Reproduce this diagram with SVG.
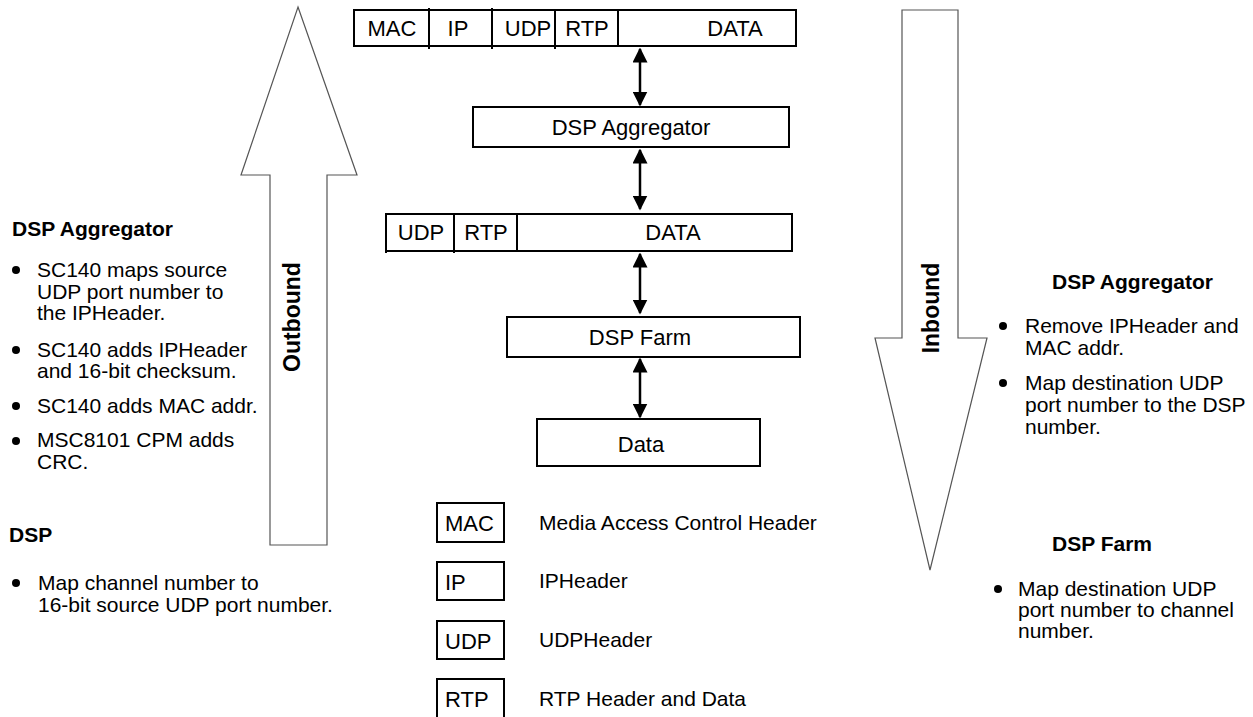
<svg xmlns="http://www.w3.org/2000/svg" width="1253" height="717" viewBox="0 0 1253 717">
<defs>
<style>
.box{fill:#fff;stroke:#000;stroke-width:2}
.div{stroke:#000;stroke-width:2}
.bt{font-family:"Liberation Sans",Arial,sans-serif;font-size:22px;fill:#000}
.tx{font-family:"Liberation Sans",Arial,sans-serif;font-size:21px;fill:#000}
.hd{font-family:"Liberation Sans",Arial,sans-serif;font-size:21px;font-weight:bold;fill:#000}
.rot{font-family:"Liberation Sans",Arial,sans-serif;font-size:23px;font-weight:bold;fill:#000}
.big{fill:#fff;stroke:#555;stroke-width:1.2}
.con{stroke:#000;stroke-width:2.5;fill:none;marker-start:url(#ah);marker-end:url(#ah)}
</style>
<marker id="ah" viewBox="0 0 10 10" refX="9" refY="5" markerWidth="6" markerHeight="6" orient="auto-start-reverse" markerUnits="strokeWidth">
<path d="M0,0 L10,5 L0,10 z" fill="#000"/>
</marker>
</defs>
<rect width="1253" height="717" fill="#fff"/>

<g id="outbound">
<polygon class="big" points="298,7 357,175 327,175 327,545 270,545 270,175 241,175"/>
<text class="rot" text-anchor="middle" transform="translate(300,317) rotate(-90)">Outbound</text>
</g>

<g id="inbound">
<polygon class="big" points="902,10 958,10 958,338 987,338 930,570 875,338 902,338"/>
<text class="rot" text-anchor="middle" transform="translate(939,308) rotate(-90)">Inbound</text>
</g>

<g id="packet-full">
<rect class="box" x="354" y="10" width="442" height="36"/>
<line class="div" x1="429" y1="8" x2="429" y2="49"/>
<line class="div" x1="492" y1="8" x2="492" y2="49"/>
<line class="div" x1="555" y1="10" x2="555" y2="49"/>
<line class="div" x1="618" y1="10" x2="618" y2="46"/>
<text class="bt" x="392" y="36" text-anchor="middle">MAC</text>
<text class="bt" x="458" y="36" text-anchor="middle">IP</text>
<text class="bt" x="528" y="36" text-anchor="middle">UDP</text>
<text class="bt" x="587" y="36" text-anchor="middle">RTP</text>
<text class="bt" x="735" y="36" text-anchor="middle">DATA</text>
</g>

<g id="dsp-aggregator">
<rect class="box" x="473" y="107" width="316" height="40"/>
<text class="bt" x="631" y="135" text-anchor="middle">DSP Aggregator</text>
</g>

<g id="packet-udp">
<rect class="box" x="386" y="214" width="406" height="37"/>
<line class="div" x1="454" y1="214" x2="454" y2="253"/>
<line class="div" x1="517" y1="214" x2="517" y2="251"/>
<line class="div" x1="386" y1="214" x2="386" y2="253"/>
<text class="bt" x="421" y="240" text-anchor="middle">UDP</text>
<text class="bt" x="486" y="240" text-anchor="middle">RTP</text>
<text class="bt" x="673" y="240" text-anchor="middle">DATA</text>
</g>

<g id="dsp-farm">
<rect class="box" x="507" y="317" width="293" height="40"/>
<text class="bt" x="640" y="345" text-anchor="middle">DSP Farm</text>
</g>

<g id="data">
<rect class="box" x="537" y="419" width="223" height="47"/>
<text class="bt" x="641" y="452" text-anchor="middle">Data</text>
</g>

<g id="connectors">
<line class="con" x1="640" y1="49" x2="640" y2="105"/>
<line class="con" x1="640" y1="150" x2="640" y2="209"/>
<line class="con" x1="640" y1="254" x2="640" y2="313"/>
<line class="con" x1="640" y1="359" x2="640" y2="417"/>
</g>

<g id="legend">
<rect class="box" x="437" y="503" width="67" height="39"/>
<text class="bt" x="445" y="531">MAC</text>
<text class="tx" x="539" y="530">Media Access Control Header</text>
<rect class="box" x="437" y="562" width="67" height="38"/>
<text class="bt" x="445" y="590">IP</text>
<text class="tx" x="539" y="588">IPHeader</text>
<rect class="box" x="437" y="621" width="67" height="38"/>
<text class="bt" x="445" y="649">UDP</text>
<text class="tx" x="539" y="647">UDPHeader</text>
<rect class="box" x="437" y="679" width="67" height="45"/>
<text class="bt" x="445" y="707">RTP</text>
<text class="tx" x="539" y="706">RTP Header and Data</text>
</g>

<g id="left-notes">
<text class="hd" x="12" y="236">DSP Aggregator</text>
<circle cx="16" cy="270" r="4"/>
<text class="tx" x="37" y="277">SC140 maps source</text>
<text class="tx" x="37" y="299">UDP port number to</text>
<text class="tx" x="37" y="320">the IPHeader.</text>
<circle cx="16" cy="350" r="4"/>
<text class="tx" x="37" y="357">SC140 adds IPHeader</text>
<text class="tx" x="37" y="378">and 16-bit checksum.</text>
<circle cx="16" cy="406" r="4"/>
<text class="tx" x="37" y="413">SC140 adds MAC addr.</text>
<circle cx="16" cy="441" r="4"/>
<text class="tx" x="37" y="447">MSC8101 CPM adds</text>
<text class="tx" x="37" y="469">CRC.</text>
<text class="hd" x="9" y="542">DSP</text>
<circle cx="16" cy="583" r="4"/>
<text class="tx" x="38" y="590">Map channel number to</text>
<text class="tx" x="38" y="612">16-bit source UDP port number.</text>
</g>

<g id="right-notes">
<text class="hd" x="1052" y="289">DSP Aggregator</text>
<circle cx="1003" cy="326" r="4"/>
<text class="tx" x="1025" y="333">Remove IPHeader and</text>
<text class="tx" x="1025" y="355">MAC addr.</text>
<circle cx="1003" cy="383" r="4"/>
<text class="tx" x="1025" y="390">Map destination UDP</text>
<text class="tx" x="1025" y="412">port number to the DSP</text>
<text class="tx" x="1025" y="434">number.</text>
<text class="hd" x="1052" y="551">DSP Farm</text>
<circle cx="998" cy="589" r="4"/>
<text class="tx" x="1018" y="596">Map destination UDP</text>
<text class="tx" x="1018" y="617">port number to channel</text>
<text class="tx" x="1018" y="638">number.</text>
</g>
</svg>
